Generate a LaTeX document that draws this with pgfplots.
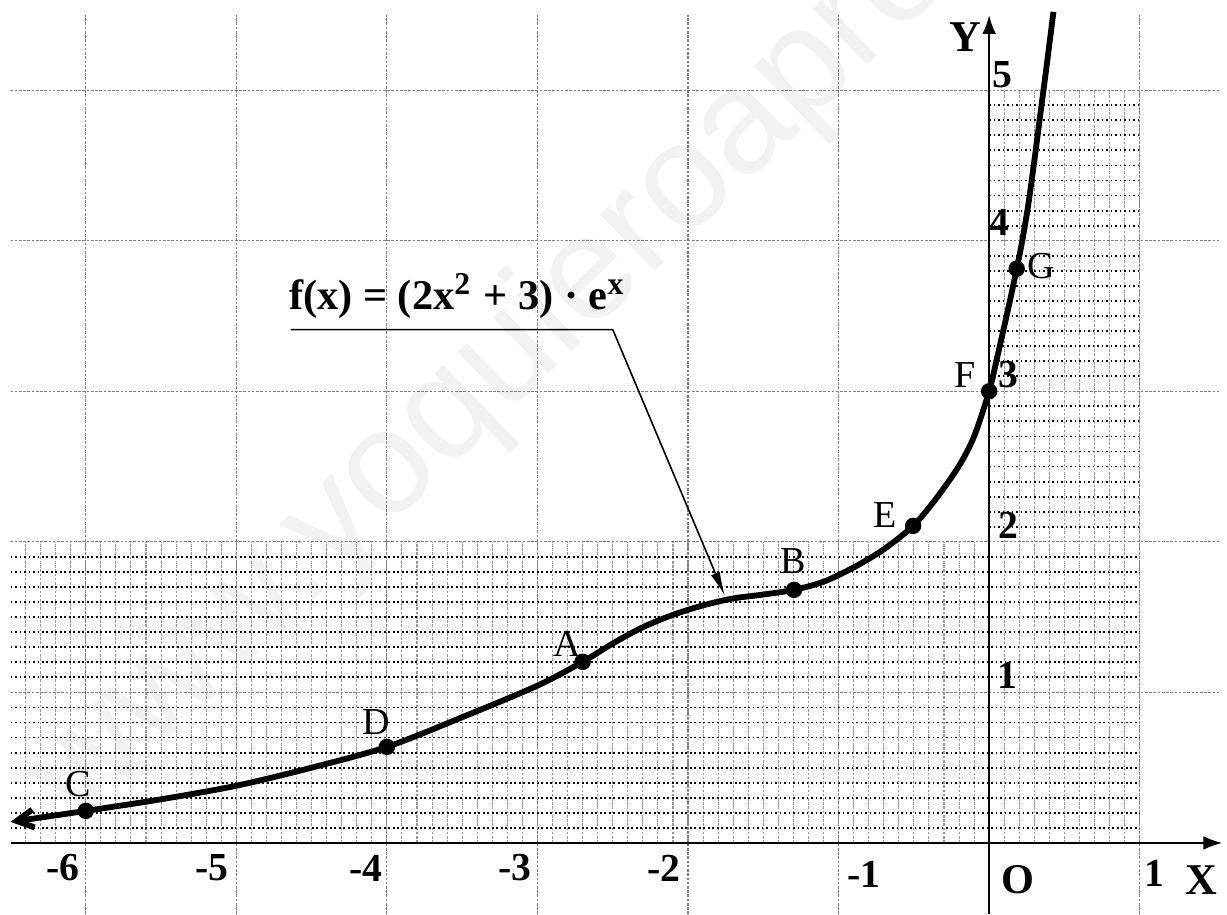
\documentclass[border=0pt]{standalone}
\usepackage{fontspec}
\setmainfont{Liberation Serif}
\newfontfamily\wmfont{Liberation Sans}
\usepackage{pgfplots}
\pgfplotsset{compat=1.18}
\usetikzlibrary{arrows.meta}

\pgfplotsset{
  gridaxis/.style={
    anchor=origin, at={(0,0)}, x=1cm, y=1cm,
    axis line style={draw=none}, tick style={draw=none},
    major tick length=0pt, xticklabels={}, yticklabels={},
    grid=major,
    x grid style={black!40, line width=0.2pt, dash pattern=on 0.5pt off 0.3pt},
    y grid style={black, line width=0.35pt, dash pattern=on 0.35pt off 0.5pt},
  },
}
\tikzset{
  majorgrid/.style={black!50, line width=0.22pt, dash pattern=on 0.5pt off 0.3pt},
  lbl/.style={font=\fontsize{7.2}{8}\selectfont, inner sep=0pt},
  num/.style={font=\bfseries\fontsize{7.5}{8}\selectfont, inner sep=0pt},
}

\begin{document}
\begin{tikzpicture}
% watermark, canvas units = data units (axes anchored at origin, 1cm per unit)
\node[rotate=44, anchor=base west, text=black!5, inner sep=0pt,
      font=\wmfont\fontsize{28}{30}\selectfont] at (-6.05,0.10) {www.yoquieroaprobar.es};

% fine grid, lower band
\begin{axis}[gridaxis, xmin=-6.5, xmax=1, ymin=0, ymax=2,
  xtick={-6.4,-6.3,...,-0.05},
  ytick={0.1,0.2,...,0.95,1.1,1.2,...,1.95}]
\end{axis}
% fine grid, right column
\begin{axis}[gridaxis, xmin=0, xmax=1, ymin=0, ymax=5,
  xtick={0.1,0.2,...,0.95},
  ytick={2.1,2.2,...,2.95,3.1,3.2,...,3.95,4.1,4.2,...,4.95}]
\end{axis}

\begin{axis}[anchor=origin, at={(0,0)}, x=1cm, y=1cm,
  xmin=-6.57, xmax=1.58, ymin=-0.472, ymax=5.599,
  hide axis, clip=false]

  % major grid
  \draw[majorgrid] (axis cs:-6,-0.472) -- (axis cs:-6,5.5);
  \draw[majorgrid] (axis cs:-5,-0.472) -- (axis cs:-5,5.5);
  \draw[majorgrid] (axis cs:-4,-0.472) -- (axis cs:-4,5.5);
  \draw[majorgrid] (axis cs:-3,-0.472) -- (axis cs:-3,5.5);
  \draw[majorgrid] (axis cs:-2,-0.472) -- (axis cs:-2,5.5);
  \draw[majorgrid] (axis cs:-1,-0.472) -- (axis cs:-1,5.5);
  \draw[majorgrid] (axis cs:1,-0.472) -- (axis cs:1,5.5);
  \draw[majorgrid] (axis cs:-6.5,1) -- (axis cs:1.53,1);
  \draw[majorgrid] (axis cs:-6.5,2) -- (axis cs:1.53,2);
  \draw[majorgrid] (axis cs:-6.5,3) -- (axis cs:1.53,3);
  \draw[majorgrid] (axis cs:-6.5,4) -- (axis cs:1.53,4);
  \draw[majorgrid] (axis cs:-6.5,5) -- (axis cs:1.53,5);

  % axes
  \draw[line width=0.45pt, -{Latex[length=3.6pt,width=2.6pt]}] (axis cs:-6.5,0) -- (axis cs:1.55,0);
  \draw[line width=0.45pt, -{Latex[length=3.6pt,width=2.6pt]}] (axis cs:0,-0.472) -- (axis cs:0,5.50);

  % curve
  \addplot[smooth, black, line width=1.1pt, {Straight Barb[length=3.2pt,width=3.4pt]}-] coordinates {
    (-6.50,0.140) (-6.00,0.213) (-5.50,0.290) (-5.00,0.380) (-4.50,0.500)
    (-4.00,0.638) (-3.50,0.835) (-3.00,1.045) (-2.70,1.203) (-2.50,1.325)
    (-2.30,1.433) (-2.10,1.515) (-1.90,1.578) (-1.70,1.624) (-1.50,1.650)
    (-1.296,1.681) (-1.10,1.735) (-0.90,1.830) (-0.70,1.950) (-0.505,2.106)
    (-0.35,2.290) (-0.20,2.505) (-0.10,2.700) (0.00,3.000) (0.05,3.210)
    (0.10,3.430) (0.14,3.610) (0.183,3.814) (0.22,4.000) (0.26,4.240)
    (0.30,4.530) (0.34,4.840) (0.383,5.170) (0.427,5.520)
  };
  % points
  \addplot[only marks, black, mark=*, mark size=1.35pt] coordinates {
    (-6.00,0.213) (-4.00,0.638) (-2.70,1.203) (-1.296,1.681)
    (-0.505,2.106) (0.00,3.000) (0.183,3.814)
  };

  % point labels
  \node[lbl] at (axis cs:-6.05,0.39) {C};
  \node[lbl] at (axis cs:-4.07,0.80) {D};
  \node[lbl] at (axis cs:-2.80,1.32) {A};
  \node[lbl] at (axis cs:-1.30,1.87) {B};
  \node[lbl] at (axis cs:-0.69,2.18) {E};
  \node[lbl] at (axis cs:-0.16,3.11) {F};
  \node[lbl] at (axis cs:0.345,3.83) {G};

  % axis numbers
  \node[num] at (axis cs:-6.15,-0.166) {-6};
  \node[num] at (axis cs:-5.16,-0.166) {-5};
  \node[num] at (axis cs:-4.14,-0.166) {-4};
  \node[num] at (axis cs:-3.15,-0.166) {-3};
  \node[num] at (axis cs:-2.16,-0.166) {-2};
  \node[num] at (axis cs:-0.83,-0.21) {-1};
  \node[num] at (axis cs:1.10,-0.20) {1};
  \node[num] at (axis cs:0.12,1.11) {1};
  \node[num] at (axis cs:0.13,2.11) {2};
  \node[num] at (axis cs:0.13,3.11) {3};
  \node[num] at (axis cs:0.07,4.12) {4};
  \node[num] at (axis cs:0.086,5.10) {5};
  \node[font=\bfseries\fontsize{8}{9}\selectfont, inner sep=0pt] at (axis cs:0.19,-0.245) {O};
  \node[font=\bfseries\fontsize{8.3}{9}\selectfont, inner sep=0pt] at (axis cs:1.41,-0.25) {X};
  \node[font=\bfseries\fontsize{8.3}{9}\selectfont, inner sep=0pt] at (axis cs:-0.16,5.35) {Y};

  % formula with leader
  \node[font=\bfseries\fontsize{8}{10}\selectfont, inner sep=0pt] at (axis cs:-3.53,3.63)
    {f(x) = (2x\textsuperscript{2} + 3) · e\textsuperscript{x}};
  \draw[line width=0.3pt, -{Latex[length=4.6pt,width=1.8pt]}]
    (axis cs:-4.64,3.41) -- (axis cs:-2.50,3.41) -- (axis cs:-1.755,1.64);
\end{axis}
\pgfresetboundingbox
\path (-6.57,-0.472) rectangle (1.58,5.599);
\end{tikzpicture}
\end{document}
